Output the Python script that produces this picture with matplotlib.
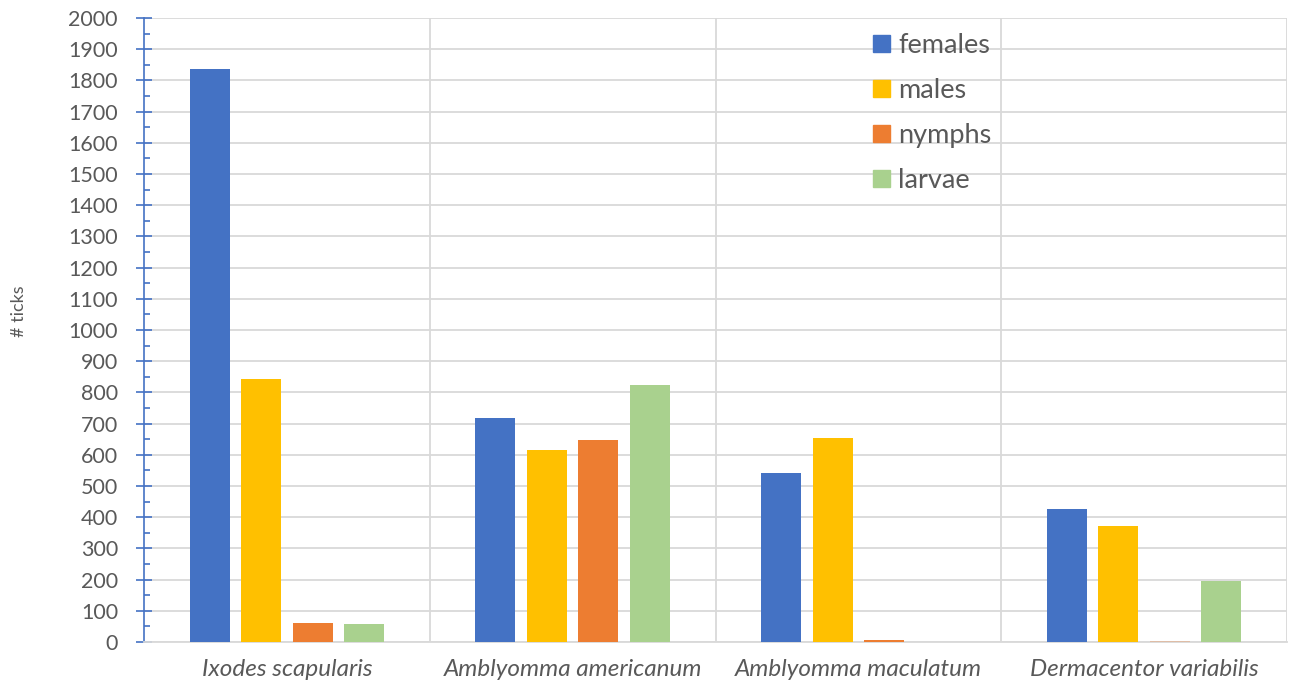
import matplotlib.pyplot as plt
import numpy as np
from matplotlib.patches import Patch
from matplotlib.ticker import MultipleLocator

species = ['Ixodes scapularis', 'Amblyomma americanum', 'Amblyomma maculatum', 'Dermacentor variabilis']
stages = ['females', 'males', 'nymphs', 'larvae']
females = [1835, 718, 542, 425]
males = [843, 615, 654, 372]
nymphs = [60, 647, 7, 4]
larvae = [57, 825, 0, 196]

colors = ['#4472C4', '#FFC000', '#ED7D31', '#A9D18E']

plt.rcParams['font.family'] = ['Lato', 'DejaVu Sans']

fig = plt.figure(figsize=(12.89, 6.92), dpi=100)
ax = fig.add_axes([144 / 1289, 50 / 692, (1287 - 144) / 1289, (642 - 18) / 692])

x = np.arange(len(species))
step = 0.18
width = 0.14
for i, (name, vals) in enumerate(zip(stages, [females, males, nymphs, larvae])):
    bars = ax.bar(x + (i - 1.5) * step, vals, width, color=colors[i], zorder=3)
    # the last nymph bar is drawn faded in the original
    if name == 'nymphs':
        bars[3].set_alpha(0.3)

ax.set_xlim(-0.5, 3.5)
ax.set_ylim(0, 2000)
ax.yaxis.set_major_locator(MultipleLocator(100))
ax.yaxis.set_minor_locator(MultipleLocator(50))
ax.set_xticks(x)
ax.set_xticklabels(species, fontstyle='italic', fontsize=17.5, color='#595959')
ax.tick_params(axis='x', length=0, pad=12)
ax.tick_params(axis='y', which='major', direction='inout', length=11.5, width=1.2,
               color='#4472C4', labelsize=15.5, labelcolor='#595959', pad=13)
ax.tick_params(axis='y', which='minor', direction='in', length=4.5, width=1.2, color='#4472C4')

ax.grid(axis='y', color='#D9D9D9', linewidth=1.3, zorder=0)
for b in [0.5, 1.5, 2.5, 3.5]:
    ax.axvline(b, color='#D9D9D9', linewidth=1.3, zorder=0)

for s in ['top', 'right']:
    ax.spines[s].set_visible(False)
ax.spines['left'].set_color('#4472C4')
ax.spines['left'].set_linewidth(1.2)
ax.spines['bottom'].set_color('#D9D9D9')
ax.spines['bottom'].set_linewidth(1.3)

fig.text(19 / 1289, (692 - 311) / 692, '# ticks', rotation=90, ha='center', va='center',
         fontsize=13, color='#595959')

handles = [Patch(color=c) for c in colors]
fig.legend(handles, stages, loc='upper left', bbox_to_anchor=(873 / 1289, (692 - 33) / 692),
           frameon=False, fontsize=19.5, handlelength=0.62, handleheight=0.62,
           handletextpad=0.3, labelspacing=0.74, borderpad=0, borderaxespad=0,
           labelcolor='#595959')

fig.savefig('out.png', dpi=100)
